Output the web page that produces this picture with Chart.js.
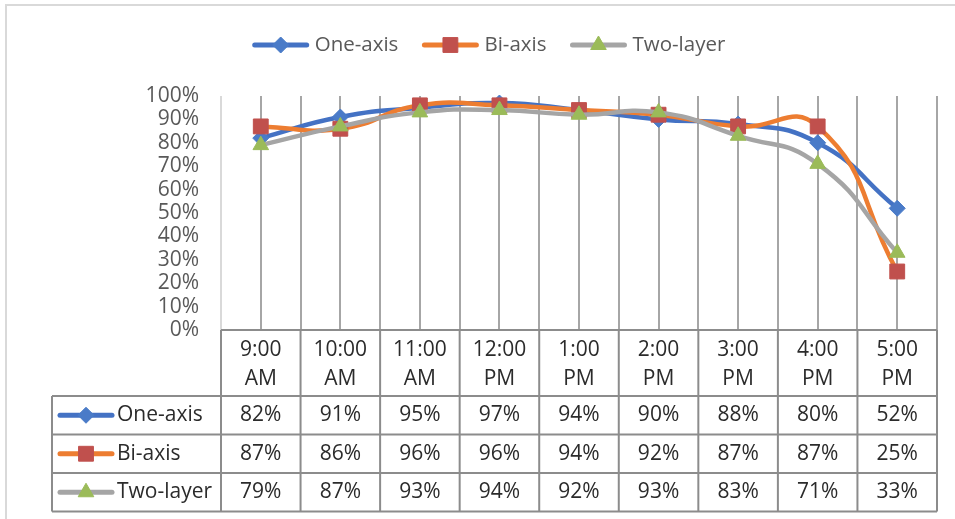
<!DOCTYPE html>
<html>
<head>
<meta charset="utf-8">
<script src="https://cdn.jsdelivr.net/npm/chart.js@4/dist/chart.umd.min.js"></script>
<style>
  html, body { margin: 0; padding: 0; background: #fff; }
  #wrap { width: 955px; height: 519px; position: relative; }
</style>
</head>
<body>
<div id="wrap"><canvas id="c" width="955" height="519"></canvas></div>
<script>
// Hourly accuracy of the three tracking methods
const hours = ['9:00 AM', '10:00 AM', '11:00 AM', '12:00 PM', '1:00 PM', '2:00 PM', '3:00 PM', '4:00 PM', '5:00 PM'];
const seriesNames = ['One-axis', 'Bi-axis', 'Two-layer'];
const oneAxis  = [82, 91, 95, 97, 94, 90, 88, 80, 52];
const biAxis   = [87, 86, 96, 96, 94, 92, 87, 87, 25];
const twoLayer = [79, 87, 93, 94, 92, 93, 83, 71, 33];
const yTicks = [0, 10, 20, 30, 40, 50, 60, 70, 80, 90, 100];

const FONT = '"Open Sans", Lato, sans-serif';
const lineColors = ['#4472C4', '#ED7D31', '#A5A5A5'];
const markerColors = ['#4A7BC8', '#C0504D', '#9BBB59'];
const markerStyles = ['rectRot', 'rect', 'triangle'];
const markerRadius = [8, 10.5, 9];
const values = [oneAxis, biAxis, twoLayer];

function drawMarker(ctx, i, x, y) {
  ctx.save();
  ctx.fillStyle = markerColors[i];
  ctx.strokeStyle = markerColors[i];
  ctx.lineWidth = 1;
  Chart.helpers.drawPoint(ctx, { pointStyle: markerStyles[i], radius: markerRadius[i], rotation: 0, borderWidth: 1 }, x, y);
  ctx.restore();
}

function drawSample(ctx, i, x0, y) {
  ctx.save();
  ctx.strokeStyle = lineColors[i];
  ctx.lineWidth = 5;
  ctx.lineCap = 'round';
  ctx.beginPath();
  ctx.moveTo(x0, y);
  ctx.lineTo(x0 + 52, y);
  ctx.stroke();
  ctx.restore();
  drawMarker(ctx, i, x0 + 26, y);
}

// Frame, legend and data table drawn around the plot
const decorations = {
  id: 'decorations',
  beforeDraw(chart) {
    const ctx = chart.ctx;
    ctx.save();
    ctx.fillStyle = '#fff';
    ctx.fillRect(0, 0, chart.width, chart.height);
    ctx.strokeStyle = '#d9d9d9';
    ctx.lineWidth = 2;
    ctx.beginPath();
    ctx.moveTo(6, chart.height);
    ctx.lineTo(6, 5);
    ctx.lineTo(chart.width, 5);
    ctx.stroke();
    ctx.restore();
  },
  afterDraw(chart) {
    const ctx = chart.ctx;
    const area = chart.chartArea;
    const xs = chart.scales.x;

    // legend
    ctx.save();
    ctx.font = '20.5px ' + FONT;
    ctx.textBaseline = 'middle';
    ctx.textAlign = 'left';
    ctx.fillStyle = '#595959';
    const widths = seriesNames.map(n => ctx.measureText(n).width);
    const itemW = widths.map(w => 60 + w);
    const gap = 26;
    const total = itemW.reduce((a, b) => a + b, 0) + gap * (itemW.length - 1);
    let lx = 490 - total / 2;
    const ly = 45;
    seriesNames.forEach((n, i) => {
      drawSample(ctx, i, lx, ly);
      ctx.fillStyle = '#595959';
      ctx.fillText(n, lx + 60, ly);
      lx += itemW[i] + gap;
    });
    ctx.restore();

    // data table
    const top = area.bottom;
    const headBottom = top + 66;
    const rowH = 38.5;
    const bottom = headBottom + rowH * 3;
    const tableLeft = 52;
    const half = (xs.getPixelForValue(1) - xs.getPixelForValue(0)) / 2;
    const colEdges = hours.map((h, i) => xs.getPixelForValue(i) - half);
    colEdges.push(xs.getPixelForValue(hours.length - 1) + half);

    ctx.save();
    ctx.strokeStyle = '#8c8c8c';
    ctx.lineWidth = 2;
    ctx.beginPath();
    ctx.moveTo(colEdges[0], top); ctx.lineTo(colEdges[colEdges.length - 1], top);
    for (let r = 0; r <= 3; r++) {
      const y = headBottom + rowH * r;
      ctx.moveTo(tableLeft, y); ctx.lineTo(colEdges[colEdges.length - 1], y);
    }
    colEdges.forEach(x => { ctx.moveTo(x, top); ctx.lineTo(x, bottom); });
    ctx.moveTo(tableLeft, headBottom); ctx.lineTo(tableLeft, bottom);
    ctx.stroke();

    ctx.font = '21px ' + FONT;
    ctx.fillStyle = '#2b2b2b';
    ctx.textAlign = 'center';
    ctx.textBaseline = 'middle';
    hours.forEach((h, i) => {
      const cx = xs.getPixelForValue(i);
      const parts = h.split(' ');
      ctx.fillText(parts[0], cx, top + 20);
      ctx.fillText(parts[1], cx, top + 49);
      values.forEach((vals, s) => {
        ctx.fillText(vals[i] + '%', cx, headBottom + rowH * s + rowH / 2);
      });
    });
    seriesNames.forEach((n, s) => {
      const cy = headBottom + rowH * s + rowH / 2;
      drawSample(ctx, s, 60, cy);
      ctx.fillStyle = '#2b2b2b';
      ctx.textAlign = 'left';
      ctx.fillText(n, 117, cy);
    });
    ctx.restore();
  }
};

const datasets = seriesNames.map((name, i) => ({
  label: name,
  data: values[i].map(v => v / 100),
  borderColor: lineColors[i],
  borderWidth: 4.5,
  tension: 0.5,
  pointStyle: markerStyles[i],
  pointRadius: markerRadius[i],
  pointHoverRadius: markerRadius[i],
  pointBackgroundColor: markerColors[i],
  pointBorderColor: markerColors[i],
  pointBorderWidth: 1,
  order: 2 - i,
  xAxisID: 'x',
  clip: false
}));

new Chart(document.getElementById('c'), {
  type: 'line',
  data: { labels: hours, datasets },
  options: {
    responsive: false,
    animation: false,
    layout: { padding: { top: 96, right: 18, bottom: 189, left: 0 } },
    plugins: { legend: { display: false }, tooltip: { enabled: false } },
    scales: {
      x: {
        type: 'category',
        offset: true,
        grid: { offset: false, color: '#a6a6a6', lineWidth: 2, drawTicks: false },
        border: { display: false },
        ticks: { display: false }
      },
      x2: {
        type: 'category',
        position: 'bottom',
        offset: true,
        grid: {
          offset: true,
          lineWidth: 2,
          drawTicks: false,
          color: ctx => ctx.index === 0 ? '#d9d9d9' : '#a6a6a6'
        },
        border: { display: false },
        ticks: { display: false }
      },
      y: {
        min: 0,
        max: 1,
        afterFit: s => { s.width = 221; },
        afterBuildTicks: s => { s.ticks = yTicks.map(v => ({ value: v / 100 })); },
        grid: { display: false, drawTicks: false },
        border: { display: false },
        ticks: {
          autoSkip: false,
          padding: 22,
          color: '#595959',
          font: { family: FONT, size: 21 },
          callback: v => Math.round(v * 100) + '%'
        }
      }
    }
  },
  plugins: [decorations]
});
</script>
</body>
</html>
